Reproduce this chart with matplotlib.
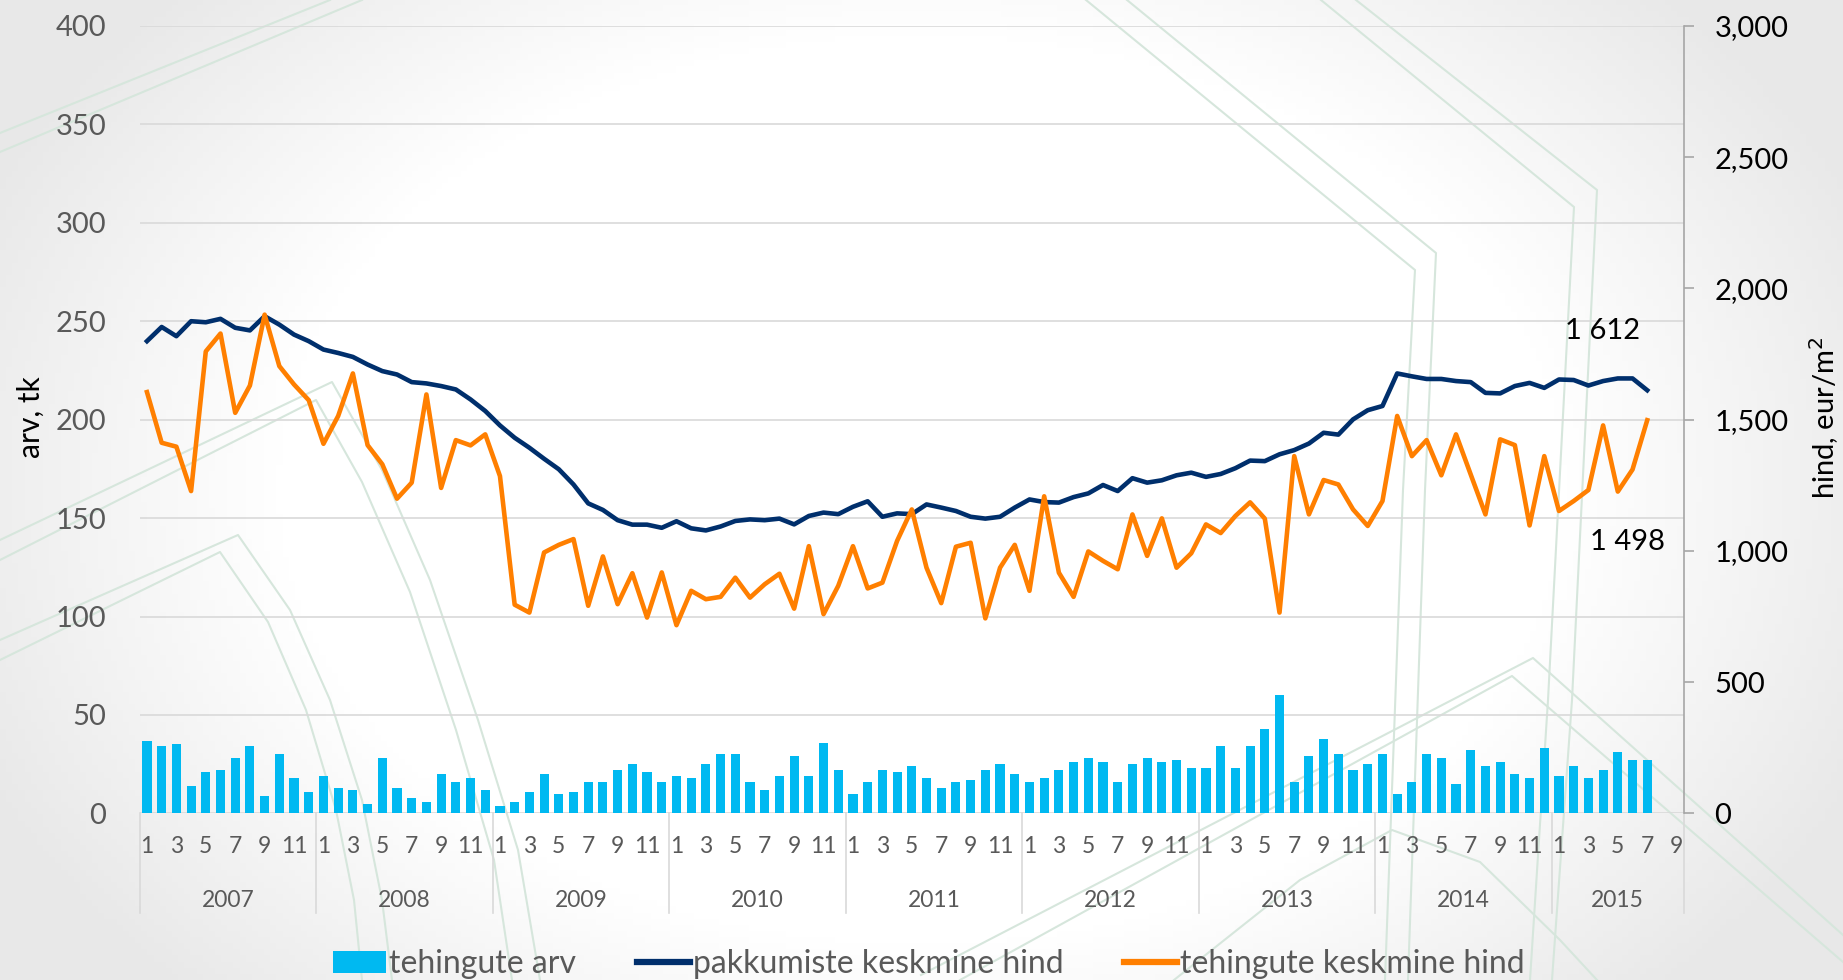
import numpy as np
import matplotlib
matplotlib.use("Agg")
from matplotlib import pyplot as plt
from matplotlib import transforms as mtrans

plt.rcParams['font.family'] = ['Lato', 'DejaVu Sans']

# categories: Jan 2007 .. Sep 2015 (Aug/Sep 2015 empty)
years = [2007, 2008, 2009, 2010, 2011, 2012, 2013, 2014, 2015]
months_per_year = [12, 12, 12, 12, 12, 12, 12, 12, 9]

# tehingute arv (left axis, tk)
tehingute_arv = [
    37, 34, 35, 14, 21, 22, 28, 34, 9, 30, 18, 11,
    19, 13, 12, 5, 28, 13, 8, 6, 20, 16, 18, 12,
    4, 6, 11, 20, 10, 11, 16, 16, 22, 25, 21, 16,
    19, 18, 25, 30, 30, 16, 12, 19, 29, 19, 36, 22,
    10, 16, 22, 21, 24, 18, 13, 16, 17, 22, 25, 20,
    16, 18, 22, 26, 28, 26, 16, 25, 28, 26, 27, 23,
    23, 34, 23, 34, 43, 60, 16, 29, 38, 30, 22, 25,
    30, 10, 16, 30, 28, 15, 32, 24, 26, 20, 18, 33,
    19, 24, 18, 22, 31, 27, 27,
]

# pakkumiste keskmine hind (right axis, eur/m2)
pakkumiste_hind = [
    1799, 1853, 1818, 1875, 1871, 1884, 1850, 1840, 1894, 1862, 1824, 1799,
    1767, 1754, 1739, 1710, 1685, 1672, 1643, 1638, 1628, 1615, 1577, 1533,
    1478, 1431, 1393, 1351, 1311, 1253, 1181, 1156, 1117, 1100, 1100, 1088,
    1113, 1086, 1078, 1093, 1114, 1120, 1117, 1123, 1101, 1133, 1146, 1140,
    1168, 1189, 1130, 1143, 1140, 1177, 1165, 1152, 1130, 1123, 1130, 1165,
    1196, 1186, 1184, 1205, 1219, 1251, 1228, 1277, 1260, 1269, 1288, 1298,
    1282, 1293, 1315, 1344, 1342, 1368, 1384, 1409, 1450, 1443, 1501, 1536,
    1552, 1676, 1665, 1655, 1655, 1647, 1643, 1602, 1600, 1628, 1640, 1621,
    1653, 1651, 1630, 1647, 1657, 1657, 1612,
]

# tehingute keskmine hind (right axis, eur/m2)
tehingute_hind = [
    1605, 1412, 1397, 1228, 1760, 1828, 1526, 1630, 1900, 1704, 1634, 1574,
    1408, 1514, 1676, 1403, 1330, 1199, 1260, 1596, 1240, 1422, 1402, 1444,
    1285, 795, 765, 994, 1023, 1045, 791, 979, 797, 915, 746, 918,
    717, 848, 816, 825, 898, 822, 873, 913, 780, 1018, 759, 867,
    1018, 857, 879, 1038, 1158, 936, 801, 1016, 1031, 743, 936, 1023,
    848, 1208, 917, 825, 998, 962, 930, 1139, 981, 1124, 936, 991,
    1101, 1068, 1133, 1185, 1123, 765, 1361, 1139, 1270, 1253, 1158, 1095,
    1190, 1514, 1361, 1422, 1288, 1444, 1291, 1139, 1425, 1403, 1097, 1361,
    1152, 1190, 1232, 1478, 1226, 1310, 1498,
]

labels = ["1 612", "1 498"]

c_bar = '#00B9F1'
c_navy = '#002F6C'
c_orange = '#FF7F00'
c_grey = '#595959'
c_grid = '#D9D9D9'
c_deco = '#D6E6DC'

W, H = 1843, 980
fig = plt.figure(figsize=(W / 100, H / 100), dpi=100)

# --- background: soft grey vignette + faint decorative strokes ---
bg = fig.add_axes([0, 0, 1, 1], zorder=-10)
gx, gy = np.meshgrid(np.linspace(-1, 1, 300), np.linspace(-1, 1, 160))
d = np.sqrt((gx * 1.0) ** 2 + (gy * 0.75) ** 2)
shade = 1 - 0.09 * np.clip((d - 0.7) / 0.42, 0, 1)
bg.imshow(np.dstack([shade, shade, shade]), extent=[0, W, H, 0], aspect='auto')
deco = [
    [(0, 133), (330, 0)], [(0, 152), (362, 0)],
    [(0, 640), (238, 535), (290, 610), (330, 700), (362, 800), (382, 900), (392, 980)],
    [(0, 660), (220, 552), (268, 622), (306, 710), (336, 810), (354, 900), (362, 980)],
    [(0, 540), (332, 382), (382, 470), (430, 580), (478, 720), (518, 850), (540, 980)],
    [(0, 560), (316, 400), (362, 482), (410, 592), (456, 730), (494, 860), (512, 980)],
    [(1086, 0), (1415, 270), (1403, 490), (1385, 980)],
    [(1127, 0), (1436, 253), (1425, 490), (1408, 980)],
    [(1321, 0), (1574, 207), (1548, 700), (1530, 980)],
    [(1356, 0), (1597, 190), (1572, 700), (1552, 980)],
    [(921, 975), (1533, 658), (1843, 935)],
    [(960, 980), (1512, 676), (1843, 962)],
    [(1174, 980), (1300, 880), (1392, 830), (1480, 862), (1560, 940), (1597, 980)],
]
for pts in deco:
    px, py = zip(*pts)
    bg.plot(px, py, color=c_deco, lw=1.5, solid_joinstyle='round')
bg.set_xlim(0, W)
bg.set_ylim(H, 0)
bg.axis('off')

# --- main axes ---
left, right, top, bottom = 139.6, 1684.0, 25.9, 813.4
ax = fig.add_axes([left / W, 1 - bottom / H, (right - left) / W, (bottom - top) / H])
ax.set_facecolor('none')

n_cat = sum(months_per_year)
month_no = [m + 1 for n in months_per_year for m in range(n)]
x = np.arange(n_cat)
xd = x[:len(tehingute_arv)]

ax.bar(xd, tehingute_arv, width=0.62, color=c_bar, zorder=3, label='tehingute arv')
ax.set_ylim(0, 400)
ax.set_xlim(-0.5, n_cat - 0.5)
ax.set_yticks(range(0, 401, 50))
ax.grid(axis='y', color=c_grid, lw=1.2, zorder=0)
ax.set_axisbelow(True)
for s in ['left', 'right', 'top', 'bottom']:
    ax.spines[s].set_visible(False)
ax.tick_params(axis='y', length=0, pad=24, labelsize=21, labelcolor=c_grey)

odd = [i for i in x if month_no[i] % 2 == 1]
ax.set_xticks(odd)
ax.set_xticklabels([str(month_no[i]) for i in odd])
ax.tick_params(axis='x', length=0, pad=16, labelsize=16.5, labelcolor=c_grey)

# year labels and separators under the category axis
trans = mtrans.blended_transform_factory(ax.transData, ax.transAxes)
start = 0
for yr, n in zip(years, months_per_year):
    ax.text(start + (n - 1) / 2, -0.111, str(yr), transform=trans, ha='center', va='center',
            fontsize=16.5, color=c_grey)
    ax.plot([start - 0.5, start - 0.5], [0, -0.126], transform=trans, color=c_grid,
            lw=1.2, clip_on=False)
    start += n
ax.plot([start - 0.5, start - 0.5], [0, -0.126], transform=trans, color=c_grid,
        lw=1.2, clip_on=False)

fig.text(31 / W, 1 - 417 / H, 'arv, tk', rotation=90, ha='center', va='center',
         fontsize=21.5, color='black')

# --- right axis: prices ---
ax2 = ax.twinx()
ax2.plot(xd, pakkumiste_hind, color=c_navy, lw=3.3, zorder=4, label='pakkumiste keskmine hind',
         solid_joinstyle='round')
ax2.plot(xd, tehingute_hind, color=c_orange, lw=3.3, zorder=4, label='tehingute keskmine hind',
         solid_joinstyle='round')
ax2.set_ylim(0, 3000)
ax2.set_yticks(range(0, 3001, 500))
ax2.yaxis.set_major_formatter(matplotlib.ticker.StrMethodFormatter('{x:,.0f}'))
for s in ['left', 'top', 'bottom']:
    ax2.spines[s].set_visible(False)
ax2.spines['right'].set_color('#A6A6A6')
ax2.spines['right'].set_linewidth(1.2)
ax2.tick_params(axis='y', length=7, width=1.2, color='#A6A6A6', direction='out', pad=15,
                labelsize=21, labelcolor='black')
fig.text(1824 / W, 1 - 418 / H, 'hind, eur/m$^2$', rotation=90, ha='center', va='center',
         fontsize=21, color='black')

# last-value labels
last = len(xd) - 1
ax2.annotate(labels[0], (xd[last], pakkumiste_hind[last]), xytext=(-32, 43),
             textcoords='offset points', ha='center', va='center', fontsize=21, color='black')
ax2.annotate(labels[1], (xd[last], tehingute_hind[last]), xytext=(-14, -88),
             textcoords='offset points', ha='center', va='center', fontsize=21, color='black')

# legend
h1, l1 = ax.get_legend_handles_labels()
h2, l2 = ax2.get_legend_handles_labels()
leg = fig.legend(h1 + h2, l1 + l2, loc='center', bbox_to_anchor=(0.504, 0.016), ncol=3,
                 frameon=False, fontsize=23, handlelength=1.65, handletextpad=0.1,
                 columnspacing=1.9)
for t in leg.get_texts():
    t.set_color(c_grey)
for ln in leg.get_lines():
    ln.set_linewidth(4.5)

fig.savefig('out.png', dpi=100)
